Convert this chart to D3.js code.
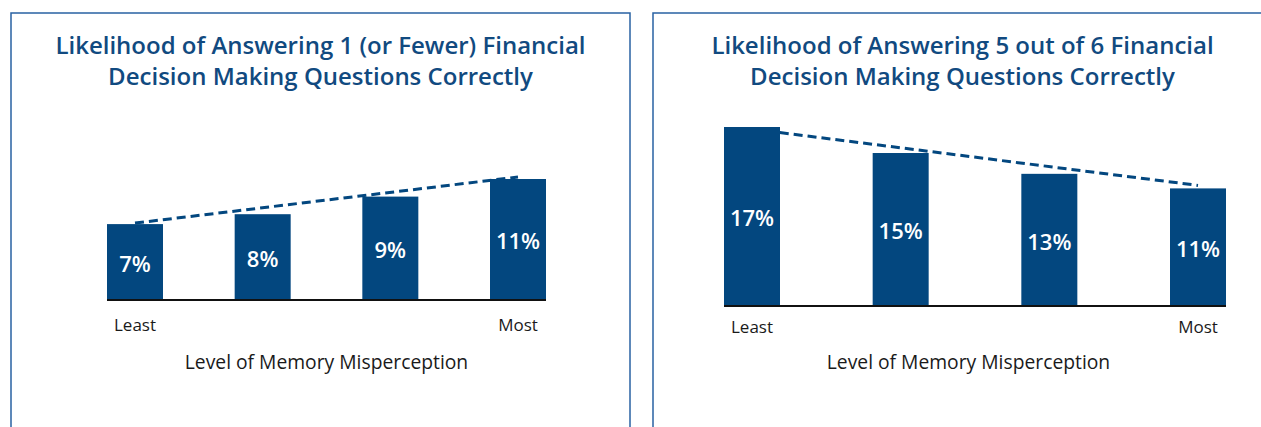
<!DOCTYPE html>
<html>
<head>
<meta charset="utf-8">
<script src="https://cdn.jsdelivr.net/npm/d3@7"></script>
<style>
	body { margin: 0; background: #fff; }
	svg text { font-family: "Open Sans", "Noto Sans", sans-serif; }
</style>
</head>
<body>
<div id="chart"></div>
<script>

// chart data
const levels = ["1", "2", "3", "4"];
const tickLabels = ["Least", "", "", "Most"];
const axisTitle = "Level of Memory Misperception";

const fewerTitle = ["Likelihood of Answering 1 (or Fewer) Financial", "Decision Making Questions Correctly"];
const fewerValues = [6.9, 7.8, 9.4, 11.0];

const fiveTitle = ["Likelihood of Answering 5 out of 6 Financial", "Decision Making Questions Correctly"];
const fiveValues = [17.2, 14.7, 12.7, 11.3];

const barColor = "#03477f";
const titleColor = "#114a80";
const frameColor = "#2862a3";

const width = 1261, height = 427;

const svg = d3.select("#chart").append("svg")
	.attr("width", width)
	.attr("height", height);

// panel layout (positions only)
const panels = [
	{ title: fewerTitle, values: fewerValues, left: 11, x0: 107, x1: 546, base: 300, top: 179, tickY: 331, axisY: 369, dash: [-1, -2] },
	{ title: fiveTitle, values: fiveValues, left: 653, x0: 724, x1: 1226, base: 306, top: 127, tickY: 333, axisY: 369, dash: [2, -3] }
];

const panelWidth = 619;
const barWidth = 56;
const fmt = d3.format(".0f");

panels.forEach(p => {
	let g = svg.append("g");

	// frame
	g.append("rect")
		.attr("x", p.left)
		.attr("y", 13)
		.attr("width", panelWidth)
		.attr("height", 440)
		.attr("fill", "none")
		.attr("stroke", frameColor)
		.attr("stroke-width", 1.5);

	let cx = p.left + panelWidth / 2;

	// title
	g.append("text")
		.attr("text-anchor", "middle")
		.attr("fill", titleColor)
		.style("font-size", "24px")
		.style("font-weight", 600)
		.selectAll("tspan")
		.data(p.title)
		.enter()
		.append("tspan")
		.attr("x", cx)
		.attr("y", (d, i) => 54 + i * 31)
		.text(d => d);

	// padding so that every bar is barWidth wide
	let span = p.x1 - p.x0;
	let pad = (span - levels.length * barWidth) / (span - barWidth);

	let x = d3.scaleBand()
		.domain(levels)
		.range([p.x0, p.x1])
		.paddingInner(pad)
		.paddingOuter(0);

	let y = d3.scaleLinear()
		.domain([0, d3.max(p.values)])
		.range([p.base, p.top]);

	let data = levels.map((l, i) => ({ level: l, value: p.values[i], tick: tickLabels[i] }));

	// dashed trend line, first to last bar (drawn behind bars)
	let first = data[0], last = data[data.length - 1];
	g.append("line")
		.attr("x1", x(first.level) + x.bandwidth() / 2)
		.attr("y1", y(first.value) + p.dash[0])
		.attr("x2", x(last.level) + x.bandwidth() / 2)
		.attr("y2", y(last.value) + p.dash[1])
		.attr("stroke", barColor)
		.attr("stroke-width", 3)
		.attr("stroke-dasharray", "9,5");

	// bars
	g.selectAll(".bar")
		.data(data)
		.enter()
		.append("rect")
		.attr("class", "bar")
		.attr("x", d => x(d.level))
		.attr("y", d => y(d.value))
		.attr("width", x.bandwidth())
		.attr("height", d => y(0) - y(d.value))
		.attr("fill", barColor);

	// value labels
	g.selectAll(".value")
		.data(data)
		.enter()
		.append("text")
		.attr("class", "value")
		.attr("x", d => x(d.level) + x.bandwidth() / 2)
		.attr("y", d => (y(d.value) + y(0)) / 2 + 2)
		.attr("dy", "0.35em")
		.attr("text-anchor", "middle")
		.attr("fill", "#fff")
		.style("font-size", "22px")
		.style("font-weight", 600)
		.text(d => fmt(d.value) + "%");

	// baseline
	g.append("line")
		.attr("x1", p.x0)
		.attr("x2", p.x1)
		.attr("y1", y(0))
		.attr("y2", y(0))
		.attr("stroke", "#111")
		.attr("stroke-width", 2);

	// end labels
	g.selectAll(".tick-label")
		.data(data.filter(d => d.tick))
		.enter()
		.append("text")
		.attr("class", "tick-label")
		.attr("x", d => x(d.level) + x.bandwidth() / 2)
		.attr("y", p.tickY)
		.attr("text-anchor", "middle")
		.attr("fill", "#1a1a1a")
		.style("font-size", "17px")
		.text(d => d.tick);

	// axis title
	g.append("text")
		.attr("x", cx + 6)
		.attr("y", p.axisY)
		.attr("text-anchor", "middle")
		.attr("fill", "#1a1a1a")
		.style("font-size", "19.3px")
		.text(axisTitle);
});

</script>
</body>
</html>
